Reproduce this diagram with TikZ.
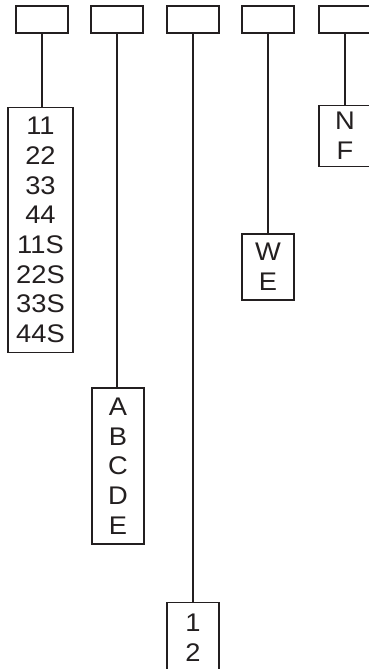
\documentclass[tikz,border=0pt]{standalone}
\usepackage{fontspec}
\setmainfont{Liberation Sans}[FakeStretch=1.07]
\definecolor{linec}{RGB}{35,31,32}
\begin{document}
\begin{tikzpicture}[x=1pt,y=-1pt,
  topbox/.style={draw=linec, line width=1.9pt, minimum width=52.5pt, minimum height=27pt, inner sep=0pt},
  labbox/.style={draw=linec, line width=1.9pt, inner sep=0pt, align=center, text=linec,
    font=\fontsize{25.5}{29.7}\selectfont},
  wire/.style={draw=linec, line width=1.9pt}]
\useasboundingbox[fill=white] (0,0) rectangle (369,669);
% top boxes
\node[topbox] (t1) at (42,19.5) {};
\node[topbox] (t2) at (117,19.5) {};
\node[topbox] (t3) at (193,19.5) {};
\node[topbox] (t4) at (268,19.5) {};
\node[topbox] (t5) at (345,19.5) {};
% label boxes
\node[labbox, minimum width=65pt, minimum height=245pt] (b1) at (40.5,230) {11\\22\\33\\44\\11S\\22S\\33S\\44S};
\node[labbox, minimum width=52pt, minimum height=156pt] (b2) at (118,466) {A\\B\\C\\D\\E};
\node[labbox, minimum width=52pt, minimum height=70pt] (b3) at (193,637.5) {1\\2};
\node[labbox, minimum width=52pt, minimum height=66pt] (b4) at (268,267) {W\\E};
\node[labbox, minimum width=52pt, minimum height=61pt] (b5) at (345,136) {N\\F};
% connectors
\draw[wire] (t1.south) -- (t1.south |- b1.north);
\draw[wire] (t2.south) -- (t2.south |- b2.north);
\draw[wire] (t3.south) -- (t3.south |- b3.north);
\draw[wire] (t4.south) -- (t4.south |- b4.north);
\draw[wire] (t5.south) -- (t5.south |- b5.north);
\end{tikzpicture}
\end{document}
